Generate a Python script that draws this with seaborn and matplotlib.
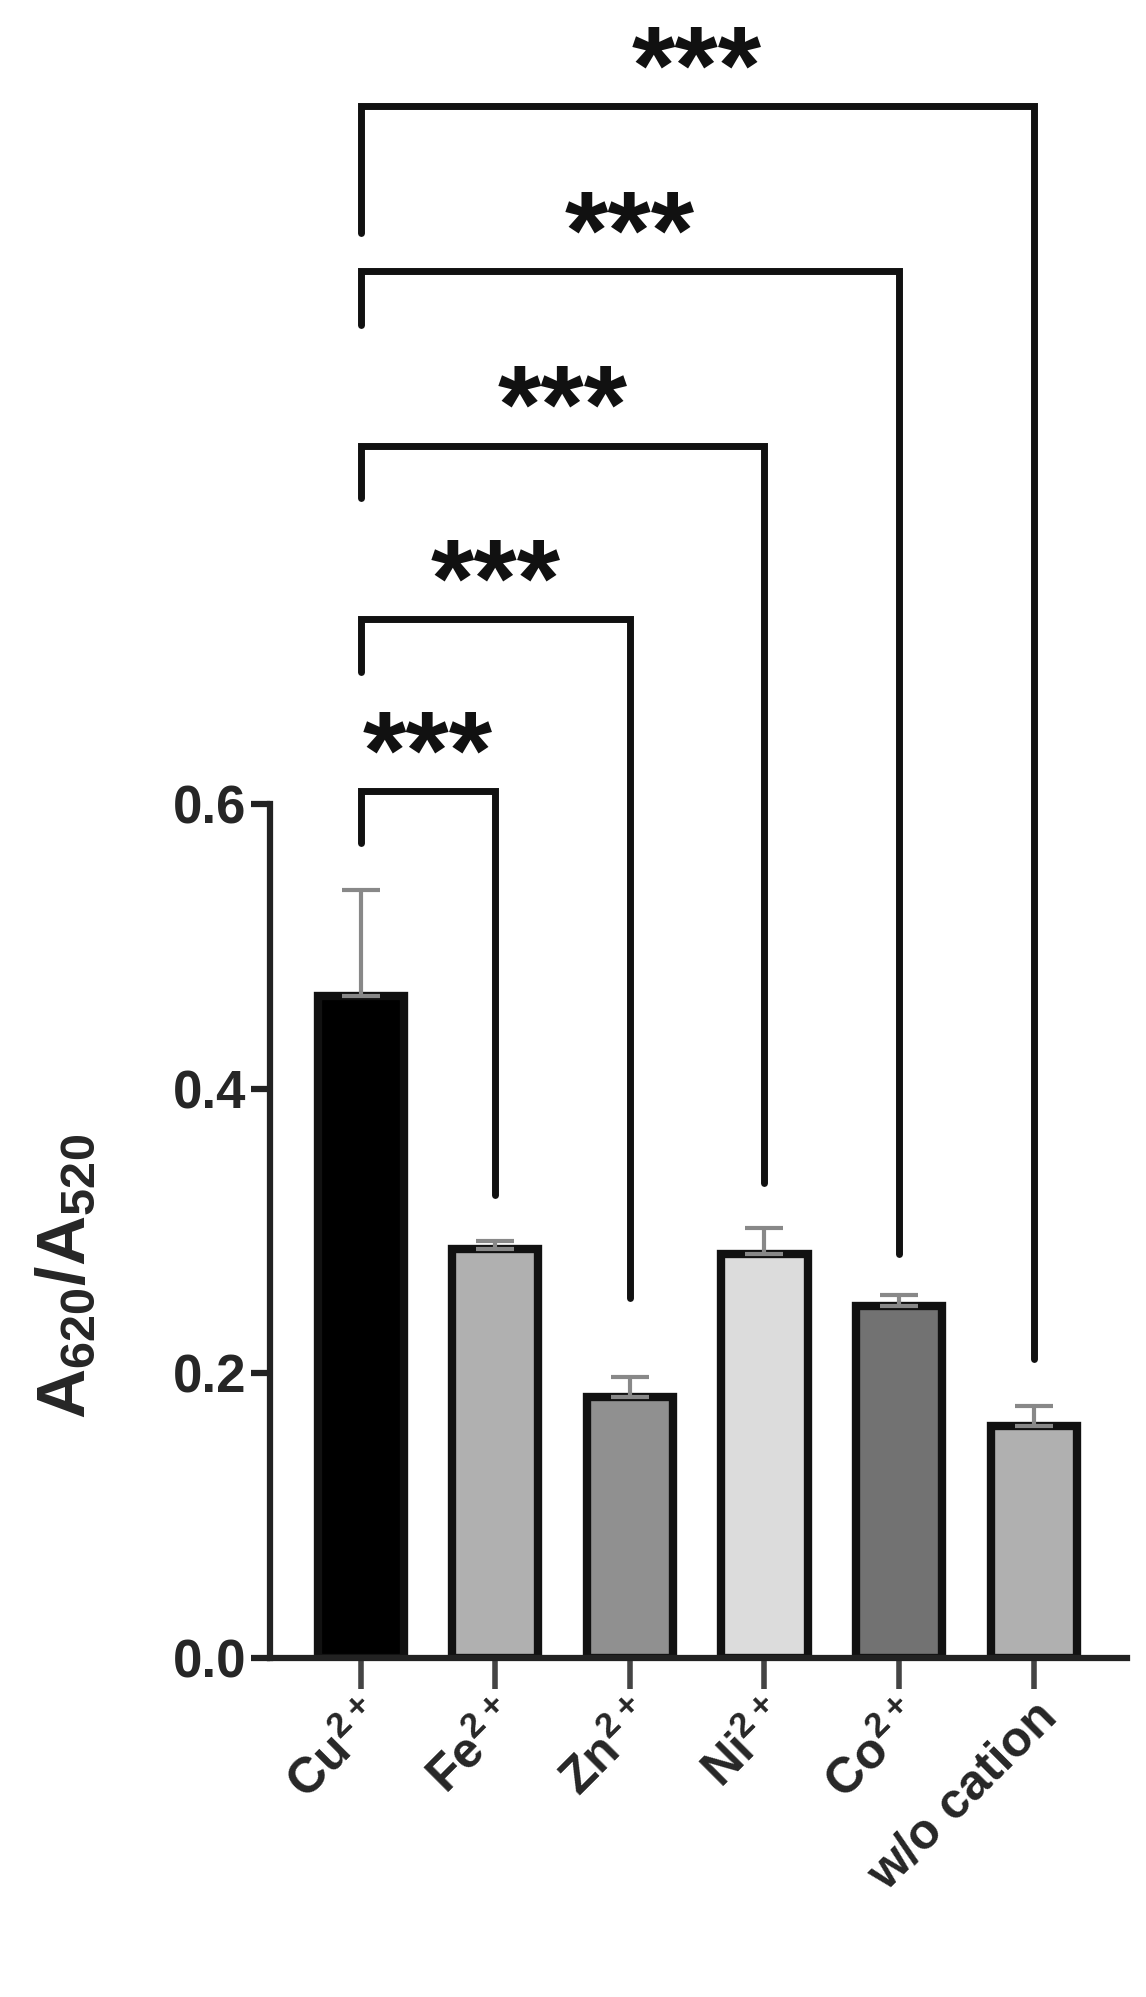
import matplotlib
matplotlib.use("Agg")
import matplotlib.pyplot as plt
import seaborn as sns
import pandas as pd

# values
cations = ["Cu$^{2+}$", "Fe$^{2+}$", "Zn$^{2+}$", "Ni$^{2+}$", "Co$^{2+}$", "w/o cation"]
means = [0.465, 0.287, 0.183, 0.284, 0.247, 0.163]
errs = [0.075, 0.006, 0.014, 0.018, 0.008, 0.014]
colors = ["#000000", "#b0b0b0", "#909090", "#dcdcdc", "#727272", "#b0b0b0"]

# comparisons: (target index, bracket top, left leg bottom, right leg bottom)
comparisons = [(1, 0.609, 0.573, 0.325),
               (2, 0.730, 0.693, 0.253),
               (3, 0.852, 0.815, 0.334),
               (4, 0.975, 0.937, 0.284),
               (5, 1.091, 1.002, 0.210)]
stars = ["***"] * 5

sns.set_style("ticks")
plt.rcParams["font.family"] = ["Liberation Sans", "DejaVu Sans"]
plt.rcParams["font.weight"] = "bold"
plt.rcParams["mathtext.default"] = "regular"

df = pd.DataFrame({"cation": cations, "mean": means})

fig = plt.figure(figsize=(11.46, 19.97), dpi=100)
ax = fig.add_axes([0.236, 0.170, 0.747, 0.830])

sns.barplot(data=df, x="cation", y="mean", hue="cation", palette=colors,
            width=0.64, edgecolor="#111111", linewidth=6, legend=False, ax=ax)
ax.errorbar(range(len(means)), means, yerr=[[0] * len(errs), errs], fmt="none",
            ecolor="#888888", elinewidth=3, capsize=14, capthick=3, zorder=1)

for (j, top, lbot, rbot), s in zip(comparisons, stars):
    ax.plot([0, 0, j, j], [lbot, top, top, rbot], color="#111111", lw=5,
            solid_joinstyle="miter", clip_on=False)
    ax.text(j / 2, top + 0.002, s, ha="center", va="baseline", fontsize=80,
            fontweight="bold", color="#111111")

ax.set_xlim(-0.67, 5.69)
ax.set_ylim(0, 1.1655)
ax.set_yticks([0.0, 0.2, 0.4, 0.6])
ax.set_yticklabels(["0.0", "0.2", "0.4", "0.6"])
ax.spines["left"].set_bounds(0, 0.6)
for sp in ["top", "right"]:
    ax.spines[sp].set_visible(False)
for sp in ["left", "bottom"]:
    ax.spines[sp].set_linewidth(4.5)
    ax.spines[sp].set_color("#222222")
ax.tick_params(axis="y", labelsize=38, width=4.5, length=14, color="#222222")
ax.tick_params(axis="x", labelsize=36, width=4, length=22, color="#444444")
plt.setp(ax.get_xticklabels(), rotation=45, ha="right", rotation_mode="anchor",
         fontweight="bold")
plt.setp(ax.get_yticklabels(), fontweight="bold")
ax.set_xlabel("")
ax.set_ylabel("A$_{620}$/A$_{520}$", fontsize=50, fontweight="bold")
ax.yaxis.set_label_coords(-0.2, 0.23)

fig.savefig("out.png", dpi=100)
